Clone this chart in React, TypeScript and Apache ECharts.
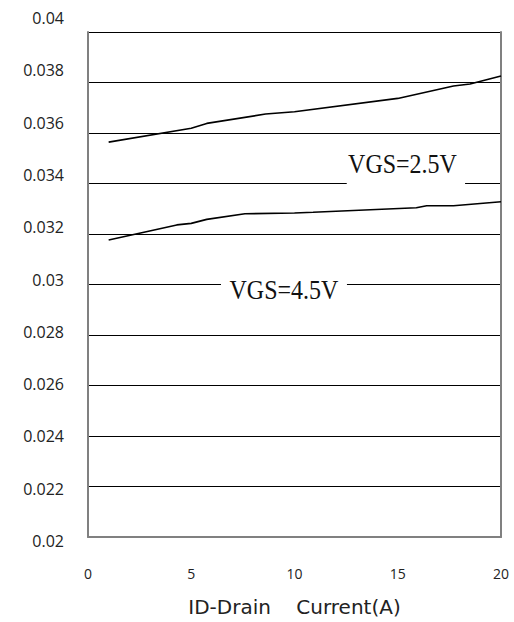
import React, { useEffect, useRef } from "react";
import * as echarts from "echarts";

// X axis ticks (A)
const xTicks = [0, 5, 10, 15, 20];
// Y axis tick labels (ohm)
const yTickLabels = ["0.02", "0.022", "0.024", "0.026", "0.028", "0.03", "0.032", "0.034", "0.036", "0.038", "0.04"];

// VGS = 2.5V curve
const vgs25X = [1, 5, 5.75, 8.6, 10, 15, 17.7, 18.5, 20];
const vgs25Y = [0.03564, 0.03619, 0.03638, 0.03675, 0.03684, 0.03737, 0.03786, 0.03794, 0.03826];

// VGS = 4.5V curve
const vgs45X = [1, 2.6, 4.3, 5, 5.75, 7.6, 10, 10.9, 15.9, 16.4, 17.7, 20];
const vgs45Y = [0.03176, 0.03205, 0.03236, 0.03242, 0.03258, 0.0328, 0.03283, 0.03286, 0.03304, 0.03312, 0.03312, 0.03328];

// Annotations (data coordinates)
const labelTexts = ["VGS=2.5V", "VGS=4.5V"];
const labelCenters = [[15.23, 0.03478], [9.49, 0.02978]];
const labelGaps = [[12.53, 18.26, 0.034], [6.44, 12.54, 0.03]];

const SANS = "'Open Sans', 'Noto Sans', sans-serif";

export default function App() {
  const ref = useRef<HTMLDivElement>(null);

  useEffect(() => {
    const chart = echarts.init(ref.current!, null, { renderer: "svg" });
    const yMin = 0.02;
    const yMax = 0.04;
    const yStep = 0.002;
    const fmtY = (v: number) => yTickLabels[Math.round((v - yMin) / yStep)] ?? "";

    chart.setOption({
      animation: false,
      backgroundColor: "#ffffff",
      grid: [
        { left: 88, right: 13, top: 32, bottom: 85 },
        { left: 88, right: 13, top: 18, bottom: 81 },
      ],
      xAxis: [
        {
          type: "value",
          gridIndex: 0,
          min: 0,
          max: 20,
          interval: 5,
          axisLine: { show: true, lineStyle: { color: "#808080", width: 2 } },
          axisTick: { show: false },
          splitLine: { show: false },
          axisLabel: {
            margin: 29,
            fontSize: 14,
            color: "#222",
            fontFamily: SANS,
            formatter: (v: number) => (xTicks.includes(v) ? String(v) : ""),
          },
          name: "ID-Drain    Current(A)",
          nameLocation: "middle",
          nameGap: 60,
          nameTextStyle: { fontSize: 20, color: "#222", fontFamily: "'DejaVu Sans', sans-serif" },
        },
        { type: "value", gridIndex: 1, min: 0, max: 20, show: false },
      ],
      yAxis: [
        {
          type: "value",
          gridIndex: 0,
          min: yMin,
          max: yMax,
          interval: yStep,
          axisLine: { show: true, lineStyle: { color: "#808080", width: 2 } },
          axisTick: { show: false },
          axisLabel: { show: false },
          splitLine: { show: true, lineStyle: { color: "#000", width: 1 } },
        },
        {
          type: "value",
          gridIndex: 0,
          position: "right",
          min: yMin,
          max: yMax,
          interval: yStep,
          axisLine: { show: true, lineStyle: { color: "#808080", width: 2 } },
          axisTick: { show: false },
          axisLabel: { show: false },
          splitLine: { show: false },
        },
        {
          type: "value",
          gridIndex: 1,
          min: yMin,
          max: yMax,
          interval: yStep,
          axisLine: { show: false },
          axisTick: { show: false },
          splitLine: { show: false },
          axisLabel: {
            margin: 24,
            fontSize: 16,
            color: "#222",
            fontFamily: SANS,
            formatter: fmtY,
          },
        },
      ],
      series: [
        {
          type: "line",
          xAxisIndex: 0,
          yAxisIndex: 0,
          data: vgs25X.map((x, i) => [x, vgs25Y[i]]),
          showSymbol: false,
          lineStyle: { color: "#000", width: 1.6 },
          z: 5,
        },
        {
          type: "line",
          xAxisIndex: 0,
          yAxisIndex: 0,
          data: vgs45X.map((x, i) => [x, vgs45Y[i]]),
          showSymbol: false,
          lineStyle: { color: "#000", width: 1.6 },
          z: 5,
        },
      ],
    });

    const toPx = (p: number[]) => chart.convertToPixel({ xAxisIndex: 0, yAxisIndex: 0 }, p) as number[];
    const graphics: any[] = [];
    labelGaps.forEach(([x0, x1, y]) => {
      const a = toPx([x0, y]);
      const b = toPx([x1, y]);
      graphics.push({
        type: "rect",
        z: 10,
        shape: { x: a[0], y: a[1] - 4, width: b[0] - a[0], height: 8 },
        style: { fill: "#ffffff" },
      });
    });
    labelTexts.forEach((t, i) => {
      const c = toPx(labelCenters[i]);
      graphics.push({
        type: "text",
        z: 11,
        x: c[0],
        y: c[1],
        scaleY: 1.15,
        style: {
          text: t,
          fontFamily: "'Liberation Serif', 'DejaVu Serif', serif",
          fontSize: 24,
          fill: "#111",
          textAlign: "center",
          textVerticalAlign: "middle",
        },
      });
    });
    chart.setOption({ graphic: graphics });

    return () => chart.dispose();
  }, []);

  return (
    <div
      ref={ref}
      style={{ position: "absolute", left: 0, top: 0, width: 514, height: 622, background: "#fff" }}
    />
  );
}
